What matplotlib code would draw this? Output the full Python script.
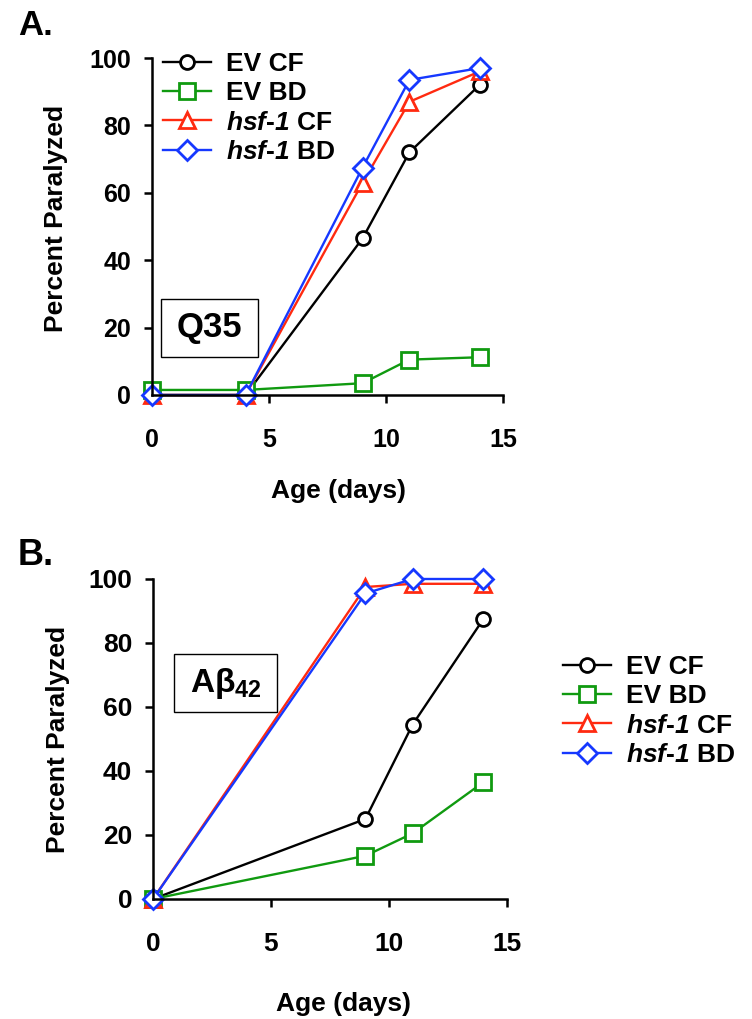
import matplotlib
matplotlib.use('Agg')
import matplotlib.pyplot as plt
from matplotlib.patches import Rectangle

plt.rcParams['font.family'] = ['Liberation Sans', 'DejaVu Sans']
plt.rcParams['font.weight'] = 'bold'
plt.rcParams['mathtext.fontset'] = 'custom'
plt.rcParams['mathtext.rm'] = 'Liberation Sans:bold'
plt.rcParams['mathtext.it'] = 'Liberation Sans:bold:italic'
plt.rcParams['mathtext.sf'] = 'Liberation Sans:bold:italic'
plt.rcParams['mathtext.bf'] = 'Liberation Sans:bold'

# Panel A: Q35
days_a = [0, 4, 9, 11, 14]
a_ev_cf = [0, 0, 46.5, 72, 92]
a_ev_bd = [1.5, 1.5, 3.5, 10.5, 11.2]
a_hsf_cf = [0, 0, 63, 87, 96]
a_hsf_bd = [0, 0, 67.5, 93.5, 97]

# Panel B: Abeta42
days_b = [0, 9, 11, 14]
b_ev_cf = [0, 25, 54.5, 87.5]
b_ev_bd = [0, 13.5, 20.5, 36.5]
b_hsf_cf = [0, 97.5, 98.5, 98.5]
b_hsf_bd = [0, 95.5, 100, 100]

# italic gene name via mathtext sans (mapped to bold italic above)
labels = ['EV CF', 'EV BD', r'$\mathsf{hsf}$-$\mathsf{1}$ CF', r'$\mathsf{hsf}$-$\mathsf{1}$ BD']
colors = ['black', '#109a10', '#ff2a10', '#1638ff']
markers = ['o', 's', '^', 'D']
msizes = [10, 11, 12, 10]

W, H = 752, 1019
fig = plt.figure(figsize=(W / 100, H / 100), dpi=100)


def px_axes(left, top, right, bottom):
    return fig.add_axes([left / W, 1 - bottom / H, (right - left) / W, (bottom - top) / H])


def style(ax, fs):
    ax.set_xlim(0, 15)
    ax.set_ylim(0, 100)
    ax.set_xticks([0, 5, 10, 15])
    ax.set_yticks([0, 20, 40, 60, 80, 100])
    for s in ['top', 'right']:
        ax.spines[s].set_visible(False)
    for s in ['left', 'bottom']:
        ax.spines[s].set_linewidth(1.8)
    ax.tick_params(axis='both', direction='out', length=6, width=1.8, labelsize=fs)
    ax.tick_params(axis='x', pad=18)
    ax.tick_params(axis='y', pad=9)


def draw(ax, days, series):
    for vals, c, m, ms in zip(series, colors, markers, msizes):
        ax.plot(days, vals, color=c, marker=m, markersize=ms, markerfacecolor='white',
                markeredgecolor=c, markeredgewidth=2.0, linewidth=1.7, clip_on=False)


# ---- Panel A
axA = px_axes(152, 58, 503, 395)
draw(axA, days_a, [a_ev_cf, a_ev_bd, a_hsf_cf, a_hsf_bd])
style(axA, 18)
axA.set_xlabel('Age (days)', fontsize=19, fontweight='bold')
axA.set_ylabel('Percent Paralyzed', fontsize=19, fontweight='bold')
axA.xaxis.set_label_coords(0.53, -0.25)
axA.yaxis.set_label_coords(-0.24, 0.525)
axA.legend(labels, loc='upper left', bbox_to_anchor=(163 / W, 1 - 52 / H),
           bbox_transform=fig.transFigure, frameon=False, fontsize=19,
           borderpad=0, borderaxespad=0, handlelength=1.8, handletextpad=0.6,
           labelspacing=0.2)
axA.add_patch(Rectangle((0.026, 0.113), 0.276, 0.172, transform=axA.transAxes,
                        facecolor='white', edgecolor='black', linewidth=1.0, zorder=5))
axA.text(0.164, 0.199, 'Q35', transform=axA.transAxes, ha='center', va='center',
         fontsize=25, fontweight='bold', zorder=6)
fig.text(18 / W, 1 - 35 / H, 'A.', fontsize=25, fontweight='bold', va='baseline')

# ---- Panel B
axB = px_axes(153, 579, 507, 899)
draw(axB, days_b, [b_ev_cf, b_ev_bd, b_hsf_cf, b_hsf_bd])
style(axB, 19)
axB.set_xlabel('Age (days)', fontsize=19, fontweight='bold')
axB.set_ylabel('Percent Paralyzed', fontsize=19, fontweight='bold')
axB.xaxis.set_label_coords(0.537, -0.29)
axB.yaxis.set_label_coords(-0.235, 0.5)
axB.legend(labels, loc='upper left', bbox_to_anchor=(563 / W, 1 - 655 / H),
           bbox_transform=fig.transFigure, frameon=False, fontsize=19,
           borderpad=0, borderaxespad=0, handlelength=1.8, handletextpad=0.6,
           labelspacing=0.2)
axB.add_patch(Rectangle((0.059, 0.584), 0.291, 0.181, transform=axB.transAxes,
                        facecolor='white', edgecolor='black', linewidth=1.0, zorder=5))
axB.text(0.205, 0.672, 'A\u03b2$_{\\mathrm{42}}$', transform=axB.transAxes,
         ha='center', va='center', fontsize=24, fontweight='bold', zorder=6)
fig.text(18 / W, 1 - 565 / H, 'B.', fontsize=26, fontweight='bold', va='baseline')

fig.savefig('out.png', dpi=100)
